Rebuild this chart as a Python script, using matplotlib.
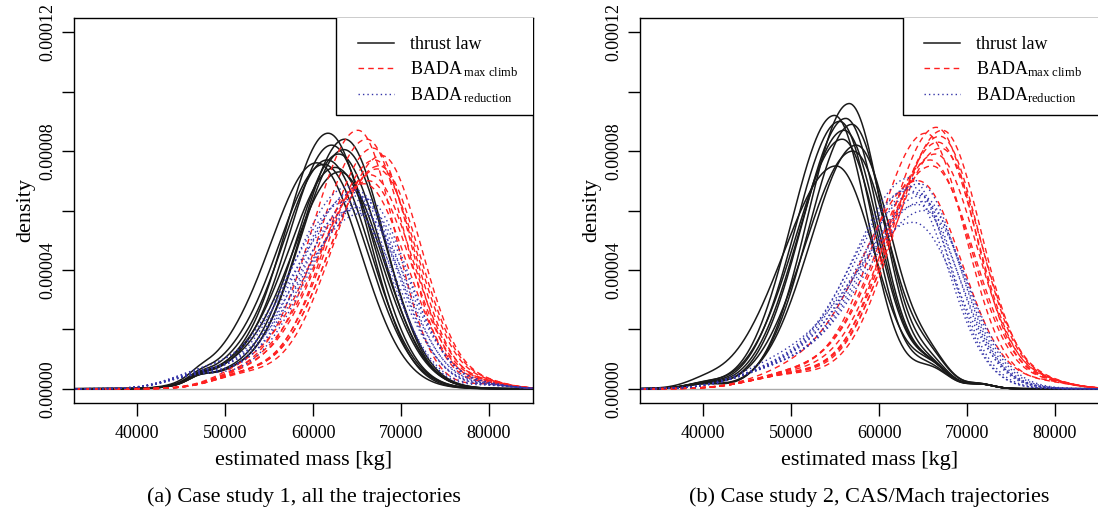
import matplotlib
matplotlib.use("Agg")
import matplotlib.pyplot as plt
from matplotlib.lines import Line2D
from matplotlib.patches import Rectangle
import numpy as np

plt.rcParams['font.family'] = ['Liberation Serif', 'DejaVu Serif']
plt.rcParams['mathtext.fontset'] = 'custom'
plt.rcParams['mathtext.rm'] = 'Liberation Serif'
plt.rcParams['mathtext.it'] = 'Liberation Serif:italic'

# ---- values: one entry per density curve ----
# mode [kg], peak density, left spread [kg], right spread [kg]

# case study 1, all the trajectories
c1_thrust_mode = [61700, 63600, 62100, 60400, 61600, 63500, 62500, 62900, 61200, 63000]
c1_thrust_peak = [8.6e-5, 8.4e-5, 8.2e-5, 7.6e-5, 7.7e-5, 8.05e-5, 7.45e-5, 7.9e-5, 7.55e-5, 7.3e-5]
c1_thrust_left = [4900, 5100, 5000, 5400, 5200, 5100, 5400, 5000, 5300, 5500]
c1_thrust_right = [4600, 4500, 4700, 5000, 4900, 4700, 5000, 4800, 5000, 4900]

c1_max_mode = [65100, 66100, 67800, 67500, 66500, 65800, 67000, 66800, 66300, 67300]
c1_max_peak = [8.7e-5, 8.4e-5, 7.85e-5, 7.5e-5, 7.2e-5, 6.9e-5, 7.7e-5, 8.1e-5, 7.0e-5, 7.4e-5]
c1_max_left = [5300, 5500, 5600, 5800, 5900, 6100, 5600, 5400, 6000, 5700]
c1_max_right = [4200, 4400, 4500, 4600, 4800, 4900, 4500, 4300, 4800, 4600]

c1_red_mode = [64000, 64600, 65200, 65800, 64300, 66000, 63800, 65000, 64800, 65500]
c1_red_peak = [6.8e-5, 6.6e-5, 6.5e-5, 6.2e-5, 6.0e-5, 6.4e-5, 6.3e-5, 6.1e-5, 6.7e-5, 5.9e-5]
c1_red_left = [6300, 6500, 6400, 6800, 7000, 6500, 6700, 6900, 6300, 7100]
c1_red_right = [4700, 4900, 4900, 5000, 5200, 4800, 5000, 5100, 4800, 5200]

# case study 2, CAS/Mach trajectories
c2_thrust_mode = [56600, 54900, 56200, 55800, 57400, 55100, 56900, 56000, 55500, 57000]
c2_thrust_peak = [9.6e-5, 9.2e-5, 9.1e-5, 8.4e-5, 8.2e-5, 7.5e-5, 8.9e-5, 8.7e-5, 9.0e-5, 8.0e-5]
c2_thrust_left = [4700, 4900, 5000, 5300, 5200, 6000, 4900, 5100, 5000, 5400]
c2_thrust_right = [3800, 3900, 3900, 4100, 4100, 4400, 3900, 4000, 3900, 4200]

c2_max_mode = [66500, 65300, 66700, 66400, 64400, 67200, 66000, 67000, 65800, 66900]
c2_max_peak = [8.8e-5, 8.6e-5, 8.3e-5, 7.9e-5, 7.0e-5, 8.7e-5, 7.5e-5, 8.1e-5, 7.7e-5, 8.5e-5]
c2_max_left = [5500, 5600, 5700, 5900, 6400, 5500, 6100, 5800, 6000, 5600]
c2_max_right = [4400, 4500, 4500, 4700, 5000, 4400, 4800, 4600, 4700, 4500]

c2_red_mode = [63500, 64600, 65200, 63900, 64200, 65000, 63700, 64800, 64400, 63300]
c2_red_peak = [7.1e-5, 6.9e-5, 6.0e-5, 5.6e-5, 6.6e-5, 6.3e-5, 6.8e-5, 6.5e-5, 6.2e-5, 6.7e-5]
c2_red_left = [6500, 6700, 7200, 7500, 6800, 7000, 6600, 6900, 7100, 6600]
c2_red_right = [4400, 4500, 4800, 5000, 4600, 4700, 4500, 4600, 4700, 4500]

# small extra bumps seen in the tails: (centre [kg], height, spread [kg])
c1_thrust_bumps = [(50000, 4.0e-6, 3500), (47000, 1.5e-6, 1200)]
c1_max_bumps = [(52000, 4.0e-6, 3500), (80000, 1.5e-6, 2500)]
c1_red_bumps = [(47000, 4.0e-6, 3500), (80000, 1.0e-6, 2500)]
c2_thrust_bumps = [(40000, 1.5e-6, 2000), (66000, 6.0e-6, 2000), (71500, 1.5e-6, 1500)]
c2_max_bumps = [(50000, 4.5e-6, 4500), (79000, 2.0e-6, 3000)]
c2_red_bumps = [(48000, 5.0e-6, 4500)]

captions = ["(a) Case study 1, all the trajectories",
            "(b) Case study 2, CAS/Mach trajectories"]


def curve(x, mode, peak, sl, sr, bumps):
    s = np.where(x < mode, sl, sr)
    y = peak * np.exp(-0.5 * ((x - mode) / s) ** 2)
    for c, h, w in bumps:
        y = y + h * np.exp(-0.5 * ((x - c) / w) ** 2)
    return y


x = np.linspace(33000, 86000, 600)

panels = [
    [(c1_thrust_mode, c1_thrust_peak, c1_thrust_left, c1_thrust_right, c1_thrust_bumps),
     (c1_max_mode, c1_max_peak, c1_max_left, c1_max_right, c1_max_bumps),
     (c1_red_mode, c1_red_peak, c1_red_left, c1_red_right, c1_red_bumps)],
    [(c2_thrust_mode, c2_thrust_peak, c2_thrust_left, c2_thrust_right, c2_thrust_bumps),
     (c2_max_mode, c2_max_peak, c2_max_left, c2_max_right, c2_max_bumps),
     (c2_red_mode, c2_red_peak, c2_red_left, c2_red_right, c2_red_bumps)],
]

styles = [dict(color='#1a1a1a', lw=1.1, ls='-'),
          dict(color='#ff2020', lw=1.0, ls=(0, (4, 3))),
          dict(color='#3434a8', lw=1.0, ls=(0, (1, 2.2)))]

labels = [["thrust law", r"$\mathrm{BADA}\,{}_{\mathrm{max\ climb}}$", r"$\mathrm{BADA}\,{}_{\mathrm{reduction}}$"],
          ["thrust law", r"$\mathrm{BADA}{}_{\mathrm{max\ climb}}$", r"$\mathrm{BADA}{}_{\mathrm{reduction}}$"]]

fig = plt.figure(figsize=(10.98, 5.2), dpi=100)
lefts = [74 / 1098, 640 / 1098]
box_left = [0.571, 0.573]
legend_shift = [0.0, -0.005]

for i, groups in enumerate(panels):
    ax = fig.add_axes([lefts[i], 1 - 403 / 520, 459 / 1098, 385 / 520])
    ax.axhline(0, color='#aaaaaa', lw=1.0, zorder=1)
    for (modes, peaks, sls, srs, bumps), st in zip(groups, styles):
        for m, p, sl, sr in zip(modes, peaks, sls, srs):
            ax.plot(x, curve(x, m, p, sl, sr, bumps), **st, zorder=2)

    ax.set_xlim(32800, 85000)
    ax.set_ylim(-0.0000048, 0.0001248)
    ax.set_xticks([40000, 50000, 60000, 70000, 80000])
    yt = [0, 2e-5, 4e-5, 6e-5, 8e-5, 1e-4, 1.2e-4]
    ax.set_yticks(yt)
    ax.set_yticklabels(["0.00000", "", "0.00004", "", "0.00008", "", "0.00012"],
                       rotation=90, va='center')
    ax.tick_params(axis='both', direction='out', length=9, width=1.0, labelsize=13, color='black')
    ax.tick_params(axis='x', pad=7)
    ax.tick_params(axis='y', pad=4)
    for sp in ax.spines.values():
        sp.set_linewidth(1.0)

    ax.set_xlabel("estimated mass [kg]", fontsize=16)
    ax.set_ylabel("density", fontsize=16)
    ax.xaxis.set_label_coords(0.5, -0.125)
    ax.yaxis.set_label_coords(-0.085, 0.5)

    # legend box drawn separately (R style: tighter at the bottom)
    ax.add_patch(Rectangle((box_left[i], 0.748), 1 - box_left[i] + 0.01, 0.26,
                           transform=ax.transAxes, facecolor='white', edgecolor='black',
                           lw=1.0, zorder=5, clip_on=True))
    handles = [Line2D([], [], **st) for st in styles]
    leg = ax.legend(handles, labels[i], loc='upper right', borderaxespad=0, fontsize=13,
                    frameon=False, handlelength=2.0, handletextpad=0.9,
                    labelspacing=0.35, borderpad=0.8,
                    bbox_to_anchor=(1 + legend_shift[i], 1 - 4 / 385))
    leg.set_zorder(6)

    fig.text(lefts[i] + 459 / 1098 / 2, 1 - 497 / 520, captions[i], fontsize=16,
             ha='center', va='center')

fig.savefig("out.png", dpi=100)
